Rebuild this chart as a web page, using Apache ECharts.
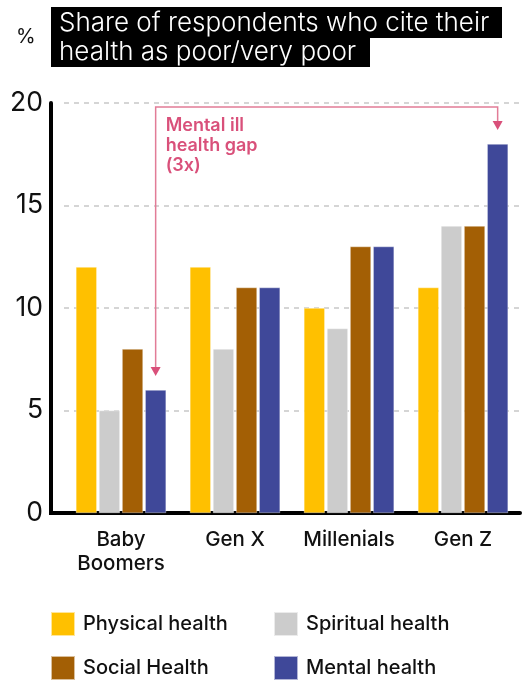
<!DOCTYPE html>
<html><head><meta charset="utf-8">
<script src="https://cdn.jsdelivr.net/npm/echarts@6/dist/echarts.min.js"></script>
<style>html,body{margin:0;padding:0;background:#fff}#chart{width:522px;height:681px}</style>
</head><body><div id="chart"></div>
<script>
// Share of respondents rating their health poor / very poor, by generation (%)
const categories = ['Baby\nBoomers', 'Gen X', 'Millenials', 'Gen Z'];
const physical = [12, 12, 10, 11];
const spiritual = [5, 8, 9, 14];
const social = [8, 11, 13, 14];
const mental = [6, 11, 13, 18];
const seriesNames = ['Physical health', 'Spiritual health', 'Social Health', 'Mental health'];
const yMin = 0, yMax = 20, yStep = 5;
const titleLines = ['Share of respondents who cite their', 'health as poor/very poor'];
const noteLines = ['Mental ill', 'health gap', '(3x)'];

const FONT = 'Inter';
const colors = ['#FFC000', '#CCCCCC', '#A35F05', '#3F4899'];
const pink = '#D9507A';

const chart = echarts.init(document.getElementById('chart'), null, {renderer: 'canvas'});

function bar(name, data, i) {
  return {
    name: name, type: 'bar', data: data,
    barWidth: 21, barGap: '10%',
    itemStyle: {color: colors[i], borderColor: 'rgba(255,255,255,0.6)', borderWidth: 0.6},
    emphasis: {disabled: true}
  };
}

const legendBase = {
  orient: 'vertical', icon: 'rect', itemWidth: 24, itemHeight: 24, itemGap: 18,
  padding: 0, top: 611, selectedMode: false,
  textStyle: {fontFamily: FONT, fontSize: 20, color: '#111', fontWeight: 500, padding: [0, 0, 0, 3]}
};

chart.setOption({
  animation: false,
  color: colors,
  grid: {left: 64, right: 2, top: 103, bottom: 168, containLabel: false},
  legend: [
    Object.assign({}, legendBase, {left: 50, data: [seriesNames[0], seriesNames[2]]}),
    Object.assign({}, legendBase, {left: 273, data: [seriesNames[1], seriesNames[3]]})
  ],
  xAxis: {
    type: 'category', data: categories,
    axisLine: {lineStyle: {color: '#000', width: 4}},
    axisTick: {inside: true, length: 6, lineStyle: {color: '#000', width: 3},
      interval: function (idx) { return idx !== 0; }},
    axisLabel: {interval: 0, hideOverlap: false, fontFamily: FONT, fontSize: 20.5, fontWeight: 500,
      color: '#111', lineHeight: 24, margin: 15}
  },
  yAxis: {
    type: 'value', min: yMin, max: yMax, interval: yStep, offset: 13,
    axisLine: {show: true, lineStyle: {color: '#000', width: 4}},
    axisTick: {show: false},
    axisLabel: {fontFamily: FONT, fontSize: 26.5, color: '#111', margin: 8},
    splitLine: {lineStyle: {color: '#C8C8C8', type: [5, 5], width: 1.5}}
  },
  series: [
    bar(seriesNames[0], physical, 0),
    bar(seriesNames[1], spiritual, 1),
    bar(seriesNames[2], social, 2),
    bar(seriesNames[3], mental, 3)
  ]
});

// Annotation arrow linking the mental-health bars of the oldest and youngest groups
const mentalData = chart.getModel().getSeriesByIndex(3).getData();
const first = mentalData.getItemLayout(0);
const last = mentalData.getItemLayout(mentalData.count() - 1);
const x1 = first.x + first.width / 2;
const x2 = last.x + last.width / 2;
const yTopPx = chart.convertToPixel({yAxisIndex: 0}, yMax) + 4;
const gapAbove = 14, arrowH = 9, arrowW = 10;
const zeroPx = chart.convertToPixel({yAxisIndex: 0}, 0);

function arrowHead(x, tipY) {
  return {type: 'polygon', shape: {points: [[x - arrowW / 2, tipY - arrowH], [x + arrowW / 2, tipY - arrowH], [x, tipY]]},
    style: {fill: pink}, z: 10};
}
const tip1 = Math.min(first.y, first.y + first.height) - gapAbove;
const tip2 = Math.min(last.y, last.y + last.height) - gapAbove;

chart.setOption({
  graphic: [
    // title block
    {type: 'rect', shape: {x: 51, y: 7, width: 451, height: 31}, style: {fill: '#000'}},
    {type: 'rect', shape: {x: 51, y: 37, width: 319, height: 30}, style: {fill: '#000'}},
    {type: 'text', x: 59, y: 23, style: {text: titleLines[0], fill: '#fff', font: '300 26px ' + FONT, textVerticalAlign: 'middle'}},
    {type: 'text', x: 59, y: 52, style: {text: titleLines[1], fill: '#fff', font: '300 26px ' + FONT, textVerticalAlign: 'middle'}},
    {type: 'text', x: 16, y: 37, style: {text: '%', fill: '#111', font: '20px ' + FONT, textVerticalAlign: 'middle'}},
    // x axis line continued to the y axis
    {type: 'line', shape: {x1: 49, y1: zeroPx, x2: 66, y2: zeroPx}, style: {stroke: '#000', lineWidth: 4}},
    // gap annotation
    {type: 'polyline', shape: {points: [[x1, tip1 - arrowH + 1], [x1, yTopPx], [x2, yTopPx], [x2, tip2 - arrowH + 1]]},
      style: {stroke: '#E27C97', lineWidth: 1.5, fill: null}, z: 10},
    arrowHead(x1, tip1),
    arrowHead(x2, tip2),
    {type: 'text', x: x1 + 10, y: yTopPx + 9, style: {text: noteLines.join('\n'), fill: pink,
      font: '600 18px ' + FONT, lineHeight: 20}, z: 10}
  ]
});
</script></body></html>
